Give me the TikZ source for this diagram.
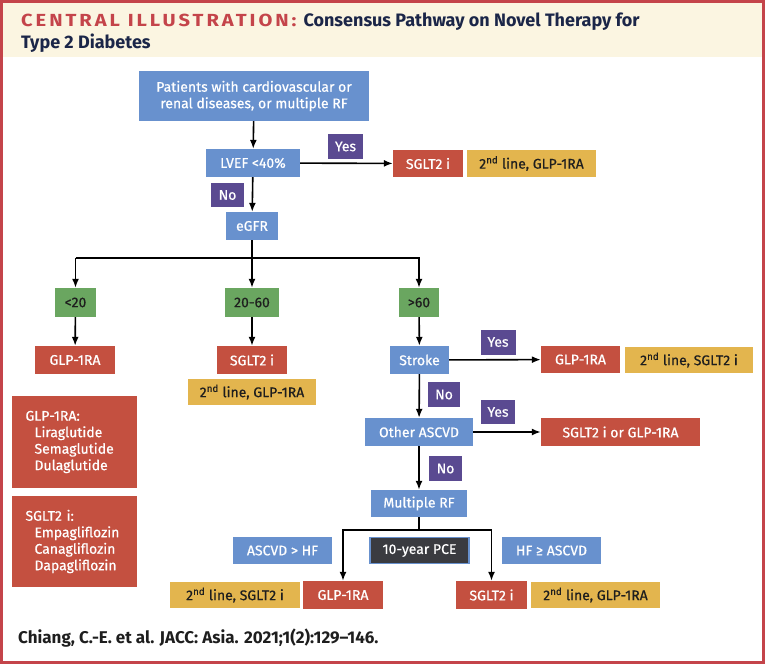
\documentclass[tikz,border=0pt]{standalone}
\usepackage{fontspec}
\setmainfont{Fira Sans}
\newfontfamily\boxfont{Fira Sans}[FakeBold=0.6]
\usepackage{tikz}
\usetikzlibrary{positioning,arrows.meta}
\definecolor{ciBlue}{RGB}{104,145,206}
\definecolor{ciRed}{RGB}{196,80,64}
\definecolor{ciGold}{RGB}{227,181,78}
\definecolor{ciGreen}{RGB}{106,166,96}
\definecolor{ciPurple}{RGB}{90,74,145}
\definecolor{ciDark}{RGB}{58,59,64}
\definecolor{ciFrame}{RGB}{196,68,74}
\definecolor{ciCream}{RGB}{251,245,225}
\definecolor{ciNavy}{RGB}{27,38,72}
\definecolor{ciInk}{RGB}{30,30,30}

\begin{document}
\begin{tikzpicture}[x=1pt, y=-1pt,
    every node/.style={inner sep=0pt, font=\boxfont\fontsize{14}{16.5}\selectfont},
    box/.style={rectangle, minimum height=28, text=white},
    bluebox/.style={box, fill=ciBlue},
    redbox/.style={box, fill=ciRed},
    goldbox/.style={box, fill=ciGold, text=ciInk, minimum height=26},
    greenbox/.style={box, fill=ciGreen, text=ciInk, minimum height=29},
    tag/.style={box, fill=ciPurple, minimum height=25},
    darkbox/.style={box, fill=ciDark, draw=ciBlue, line width=1.2pt, minimum height=26},
    arr/.style={line width=1.6pt, -{Latex[length=9pt,width=7pt]}},
    line/.style={line width=1.6pt}]
    \useasboundingbox (0,0) rectangle (765,664);
    % frame and header
    \fill[ciCream] (0,0) rectangle (765,57);
    \draw[ciFrame, line width=3pt] (1.5,1.5) rectangle (763.5,662.5);
    \node[anchor=base west, font=\normalfont\fontsize{18}{21}\bfseries] (title) at (21,26)
        {{\color{ciFrame}\fontsize{17.5}{21}\selectfont\addfontfeature{FakeStretch=1.15,LetterSpace=17}CENTRAL ILLUSTRATION:}\hspace{7pt}\color{ciNavy}Consensus Pathway on Novel Therapy for};
    \node[anchor=base west, font=\normalfont\fontsize{18}{21}\bfseries, text=ciNavy] (title2) at (21,48) {Type 2 Diabetes};

    % top of the pathway
    \node[bluebox, minimum width=230, minimum height=50, align=center] (pat) at (254,96)
        {Patients with cardiovascular or\\renal diseases, or multiple RF};
    \node[bluebox, minimum width=94] (lvef) at (253,163) {LVEF <40\%};
    \node[tag, minimum width=35] (yes1) at (345.5,146.5) {Yes};
    \node[redbox, minimum width=70, minimum height=27] (sglt1) at (428,163.5) {SGLT2 i};
    \node[goldbox, minimum width=129, minimum height=27] (sec1) at (531.5,163.5) {2\textsuperscript{nd} line, GLP-1RA};
    \node[tag, minimum width=33, minimum height=24] (no1) at (227.5,195) {No};
    \node[bluebox, minimum width=52] (egfr) at (252,226) {eGFR};

    % eGFR classes
    \node[greenbox, minimum width=41] (lt20) at (75.5,302.5) {<20};
    \node[greenbox, minimum width=54] (mid) at (252,302.5) {20-60};
    \node[greenbox, minimum width=40] (gt60) at (419,302.5) {>60};
    \node[redbox, minimum width=80] (glpL) at (75,360) {GLP-1RA};
    \node[redbox, minimum width=70] (sgltM) at (252,360) {SGLT2 i};
    \node[goldbox, minimum width=128] (secM) at (252,392) {2\textsuperscript{nd} line, GLP-1RA};

    % eGFR >60 branch
    \node[bluebox, minimum width=59] (stroke) at (419.5,360) {Stroke};
    \node[tag, minimum width=35] (yes2) at (498,342) {Yes};
    \node[redbox, minimum width=79, minimum height=27] (glpS) at (580.5,359.5) {GLP-1RA};
    \node[goldbox, minimum width=128] (secS) at (689,360) {2\textsuperscript{nd} line, SGLT2 i};
    \node[tag, minimum width=32] (no2) at (444,394.5) {No};
    \node[bluebox, minimum width=108] (oth) at (419,432) {Other ASCVD};
    \node[tag, minimum width=34, minimum height=24] (yes3) at (498,412) {Yes};
    \node[redbox, minimum width=159] (either) at (620.5,432) {SGLT2 i or GLP-1RA};
    \node[tag, minimum width=33] (no3) at (445.5,468.5) {No};
    \node[bluebox, minimum width=96, minimum height=27] (mrf) at (419,503.5) {Multiple RF};

    % 10-year PCE split
    \node[bluebox, minimum width=99, minimum height=27] (ahf) at (282.5,550.5) {ASCVD > HF};
    \node[darkbox, minimum width=99] (pce) at (419.5,550.5) {10-year PCE};
    \node[bluebox, minimum width=99, minimum height=27] (hfa) at (551.5,550.5) {HF ≥ ASCVD};
    \node[redbox, minimum width=80] (glpB) at (343,595) {GLP-1RA};
    \node[goldbox, minimum width=130] (secB) at (235,595) {2\textsuperscript{nd} line, SGLT2 i};
    \node[redbox, minimum width=71] (sgltB) at (491.5,595) {SGLT2 i};
    \node[goldbox, minimum width=129] (secB2) at (595.5,595) {2\textsuperscript{nd} line, GLP-1RA};

    % drug lists
    \node[redbox, minimum width=125, minimum height=92, text width=98, align=left] (glplist) at (74.5,442)
        {GLP-1RA:\\\hspace*{9pt}Liraglutide\\\hspace*{9pt}Semaglutide\\\hspace*{9pt}Dulaglutide};
    \node[redbox, minimum width=125, minimum height=91, text width=98, align=left] (sgltlist) at (74.5,541.5)
        {SGLT2 i:\\\hspace*{9pt}Empagliflozin\\\hspace*{9pt}Canagliflozin\\\hspace*{9pt}Dapagliflozin};

    % citation
    \node[anchor=base west, font=\normalfont\fontsize{17}{20}\bfseries, text=ciInk] (cite) at (18,643)
        {Chiang, C.-E. et al. JACC: Asia. 2021;1(2):129–146.};

    % connectors
    \coordinate (sl) at (75.5,258);
    \coordinate (sr) at (419,258);
    \coordinate (bl) at (343,530);
    \coordinate (br) at (491.5,530);
    \draw[arr] (pat) -- (lvef);
    \draw[arr] (lvef) -- (sglt1);
    \draw[arr] (lvef) -- (egfr);
    \draw[arr] (egfr) -- (mid);
    \draw[arr] (sl) -- (lt20);
    \draw[arr] (sl) -- (sr) -- (gt60);
    \draw[arr] (lt20) -- (glpL);
    \draw[arr] (mid) -- (sgltM);
    \draw[arr] (gt60) -- (stroke);
    \draw[arr] (stroke) -- (glpS);
    \draw[arr] (stroke) -- (oth);
    \draw[arr] (oth) -- (either);
    \draw[arr] (oth) -- (mrf);
    \draw[line] (mrf.south) -- (mrf.south |- bl);
    \draw[arr] (mrf.south |- bl) -- (bl) -- (glpB);
    \draw[arr] (mrf.south |- br) -- (br) -- (sgltB);
\end{tikzpicture}
\end{document}
